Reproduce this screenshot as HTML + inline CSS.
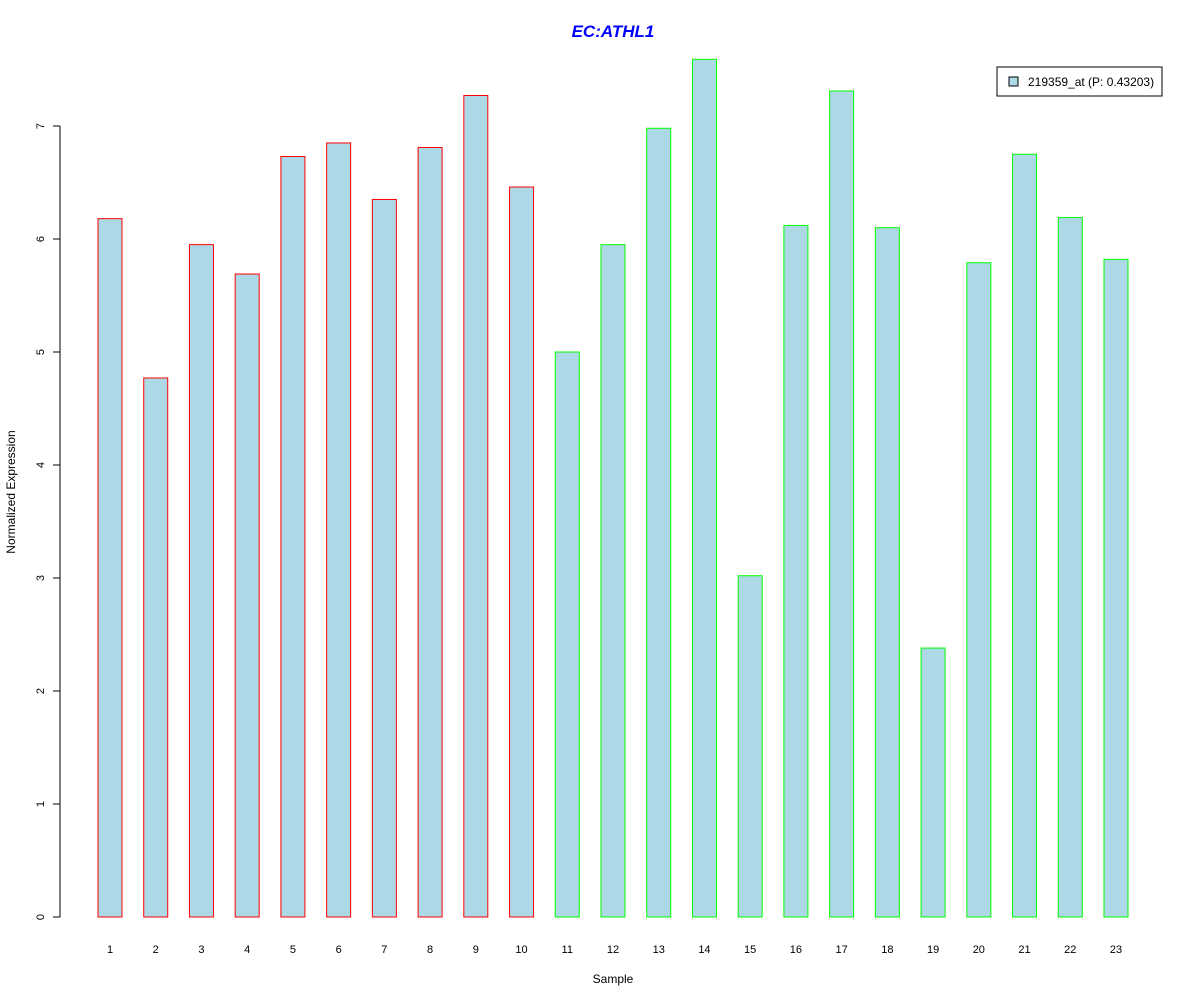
<!DOCTYPE html>
<html><head><meta charset="utf-8"><style>
body{margin:0;background:#fff}
svg text{font-family:"Liberation Sans",Arial,sans-serif}
</style></head><body>
<svg id="chart" width="1200" height="1000" xmlns="http://www.w3.org/2000/svg">
<rect width="1200" height="1000" fill="#fff"/>
<text x="613" y="37" text-anchor="middle" font-size="17" font-weight="bold" font-style="italic" fill="#0000ff">EC:ATHL1</text>
<text transform="translate(15,492) rotate(-90)" text-anchor="middle" font-size="12">Normalized Expression</text>
<text x="613" y="983" text-anchor="middle" font-size="12">Sample</text>
<g id="yaxis"></g>
<g id="bars"></g>
<g id="xlabels"></g>
<g>
<rect x="997" y="67" width="165" height="29" fill="#fff" stroke="#000"/>
<rect x="1009" y="77" width="9" height="9" fill="#add8e6" stroke="#000"/>
<text x="1028" y="86" font-size="12">219359_at (P: 0.43203)</text>
</g>
</svg>
<script>
const categories=["1","2","3","4","5","6","7","8","9","10","11","12","13","14","15","16","17","18","19","20","21","22","23"];
const values=[6.18,4.77,5.95,5.69,6.73,6.85,6.35,6.81,7.27,6.46,5.0,5.95,6.98,7.59,3.02,6.12,7.31,6.10,2.38,5.79,6.75,6.19,5.82];
const groups=[0,0,0,0,0,0,0,0,0,0,1,1,1,1,1,1,1,1,1,1,1,1,1];
const yTicks=[0,1,2,3,4,5,6,7];
const NS="http://www.w3.org/2000/svg";
const y=v=>917-v*113;
const x=i=>110+i*45.727;
const ya=document.getElementById('yaxis');
function mk(t,a,p){const e=document.createElementNS(NS,t);for(const k in a)e.setAttribute(k,a[k]);p.appendChild(e);return e;}
mk('line',{x1:60,x2:60,y1:y(0),y2:y(7),stroke:'#000'},ya);
yTicks.forEach(t=>{
 const l=mk('line',{x1:53,x2:60,y1:y(t),y2:y(t),stroke:'#000'},ya);
 
 
 const tx=mk('text',{transform:`translate(44,${y(t)}) rotate(-90)`,'text-anchor':'middle','font-size':11},ya);
 tx.textContent=t;
 
 
});
const bg=document.getElementById('bars'),xl=document.getElementById('xlabels');
values.forEach((v,i)=>{
 const r=mk('rect',{x:x(i)-12,y:y(v),width:24,height:y(0)-y(v),fill:'#add8e6',stroke:groups[i]?'#00ff00':'#ff0000'},bg);
 
 
 const t=mk('text',{x:x(i),y:953,'text-anchor':'middle','font-size':11},xl);
 t.textContent=categories[i];
 
 
});
</script>
</body></html>
